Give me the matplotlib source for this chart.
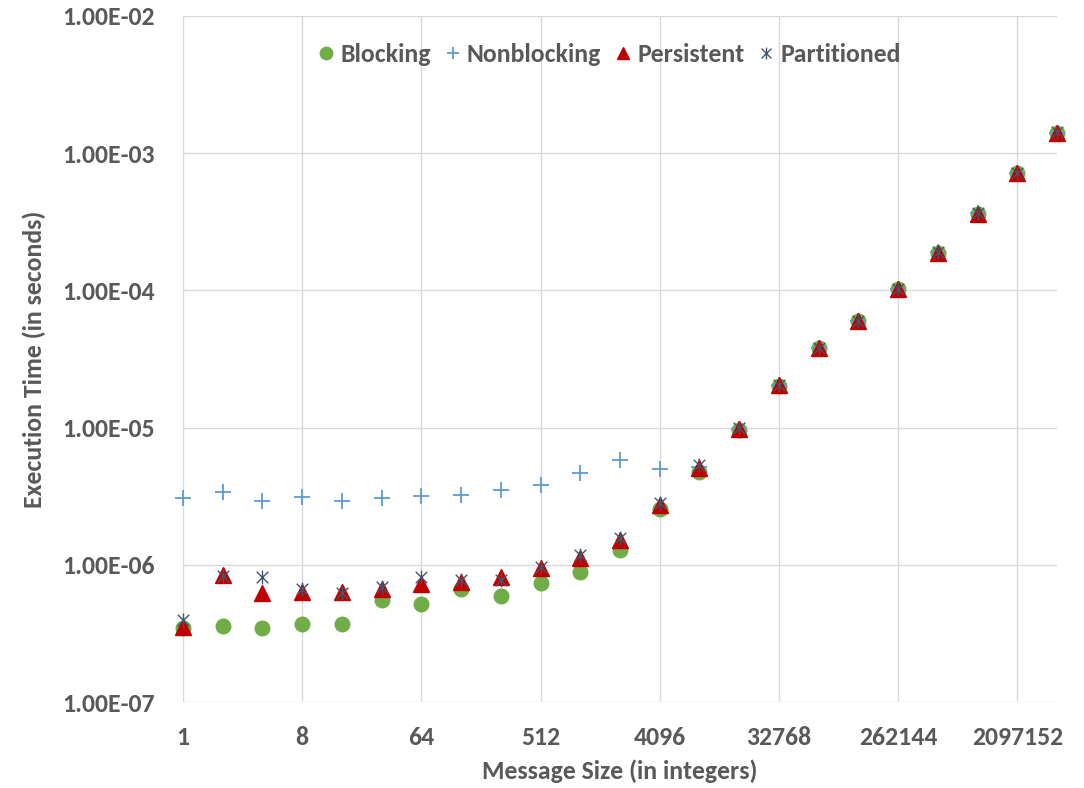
"""Execution time vs message size for four MPI communication modes."""

import matplotlib
import numpy as np
from matplotlib.path import Path

matplotlib.use("Agg")
import matplotlib.pyplot as plt
from matplotlib.ticker import FixedLocator, FixedFormatter, NullLocator

# message sizes: powers of two from 1 to 4194304
sizes = [1, 2, 4, 8, 16, 32, 64, 128, 256, 512, 1024, 2048, 4096, 8192,
         16384, 32768, 65536, 131072, 262144, 524288, 1048576, 2097152, 4194304]

blocking = [3.44e-7, 3.56e-7, 3.44e-7, 3.70e-7, 3.70e-7, 5.51e-7, 5.15e-7, 6.63e-7,
            5.93e-7, 7.33e-7, 8.81e-7, 1.28e-6, 2.54e-6, 4.72e-6,
            9.6e-6, 2.02e-5, 3.78e-5, 5.98e-5, 1.02e-4, 1.88e-4, 3.62e-4, 7.13e-4, 1.40e-3]
nonblocking = [3.05e-6, 3.37e-6, 2.93e-6, 3.10e-6, 2.92e-6, 3.05e-6, 3.17e-6, 3.24e-6,
               3.51e-6, 3.79e-6, 4.64e-6, 5.80e-6, 4.96e-6, 5.15e-6,
               9.8e-6, 2.03e-5, 3.80e-5, 6.0e-5, 1.03e-4, 1.89e-4, 3.64e-4, 7.15e-4, 1.41e-3]
persistent = [3.55e-7, 8.43e-7, 6.20e-7, 6.37e-7, 6.37e-7, 6.63e-7, 7.21e-7, 7.53e-7,
              8.20e-7, 9.44e-7, 1.13e-6, 1.52e-6, 2.73e-6, 5.05e-6,
              9.8e-6, 2.03e-5, 3.79e-5, 5.99e-5, 1.02e-4, 1.88e-4, 3.63e-4, 7.14e-4, 1.41e-3]
partitioned = [3.96e-7, 8.28e-7, 8.20e-7, 6.63e-7, 6.24e-7, 6.93e-7, 8.10e-7, 7.74e-7,
               7.74e-7, 9.68e-7, 1.18e-6, 1.56e-6, 2.84e-6, 5.34e-6,
               1.0e-5, 2.05e-5, 3.82e-5, 6.02e-5, 1.03e-4, 1.90e-4, 3.66e-4, 7.18e-4, 1.42e-3]

x_ticks = [1, 8, 64, 512, 4096, 32768, 262144, 2097152]
y_ticks = [1e-7, 1e-6, 1e-5, 1e-4, 1e-3, 1e-2]
y_labels = ["1.00E-07", "1.00E-06", "1.00E-05", "1.00E-04", "1.00E-03", "1.00E-02"]

TEXT = "#595959"
GRID = "#D9D9D9"
FONT = ["Carlito", "DejaVu Sans"]
FS = 18.5

# Excel-style "star": X with a vertical bar
star = Path(
    [(-1, -1), (1, 1), (-1, 1), (1, -1), (0, -1.2), (0, 1.2)],
    [Path.MOVETO, Path.LINETO, Path.MOVETO, Path.LINETO, Path.MOVETO, Path.LINETO],
)

plt.rcParams["font.family"] = FONT
plt.rcParams["font.weight"] = "bold"

fig = plt.figure(figsize=(10.84, 7.88), dpi=100)
ax = fig.add_axes([0.1688, 0.1091, 0.8063, 0.8706])

ax.plot(sizes, blocking, ls="none", marker="o", ms=10.5, color="#70AD47",
        mec="#70AD47", label="Blocking", clip_on=False, zorder=3)
ax.plot(sizes, nonblocking, ls="none", marker="+", ms=11, mew=1.3, color="#5B9BD5",
        label="Nonblocking", clip_on=False, zorder=4)
ax.plot(sizes, persistent, ls="none", marker="^", ms=11, color="#C00000",
        mec="#C00000", label="Persistent", clip_on=False, zorder=5)
ax.plot(sizes, partitioned, ls="none", marker=star, ms=10, mew=1.0, color="#44546A",
        mfc="none", label="Partitioned", clip_on=False, zorder=6)

ax.set_xscale("log", base=2)
ax.set_yscale("log")
ax.set_xlim(1, 4194304)
ax.set_ylim(1e-7, 1e-2)

ax.xaxis.set_major_locator(FixedLocator(x_ticks))
ax.xaxis.set_major_formatter(FixedFormatter([str(t) for t in x_ticks]))
ax.xaxis.set_minor_locator(NullLocator())
ax.yaxis.set_major_locator(FixedLocator(y_ticks))
ax.yaxis.set_major_formatter(FixedFormatter(y_labels))
ax.yaxis.set_minor_locator(NullLocator())

ax.grid(True, color=GRID, lw=1.0)
ax.set_axisbelow(True)
for s in ax.spines.values():
    s.set_visible(False)
ax.tick_params(length=0, labelsize=FS, labelcolor=TEXT)
ax.tick_params(axis="x", pad=17)
ax.tick_params(axis="y", pad=20)
for lab in ax.get_xticklabels() + ax.get_yticklabels():
    lab.set_fontweight("bold")

ax.set_xlabel("Message Size (in integers)", fontsize=FS, fontweight="bold",
              color=TEXT, labelpad=8)
ax.set_ylabel("Execution Time (in seconds)", fontsize=FS, fontweight="bold",
              color=TEXT, labelpad=12)

leg = ax.legend(loc="upper center", bbox_to_anchor=(0.486, 0.995), ncol=4,
                frameon=False, handletextpad=0.1, columnspacing=0.4,
                handlelength=0.9, markerscale=0.85,
                prop={"family": FONT, "weight": "bold", "size": FS})
for t in leg.get_texts():
    t.set_color(TEXT)

fig.savefig("out.png", dpi=100)
plt.close(fig)
